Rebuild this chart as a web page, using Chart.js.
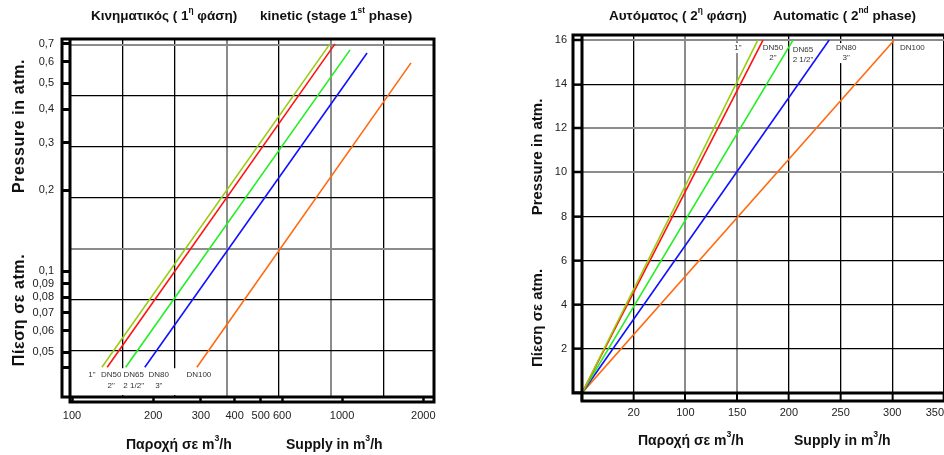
<!DOCTYPE html>
<html>
<head>
<meta charset="utf-8">
<script src="https://cdn.jsdelivr.net/npm/chart.js@4.4.1/dist/chart.umd.min.js"></script>
<style>
  body { margin: 0; width: 944px; height: 455px; overflow: hidden; background: #fff; position: relative;
         font-family: "Liberation Sans", Arial, sans-serif; }
  canvas { position: absolute; top: 0; }
  #kinetic { left: 0; }
  #automatic { left: 470px; }
  .t { position: absolute; font-weight: bold; color: #111; white-space: nowrap; line-height: 1; }
  .t sup { font-size: 62%; vertical-align: top; position: relative; top: -3px; }
  .v { transform: translate(-50%, -50%) rotate(-90deg); }
</style>
</head>
<body>
<canvas id="kinetic" width="470" height="455"></canvas>
<canvas id="automatic" width="479" height="455"></canvas>

<div class="t" style="left:91px;top:9px;font-size:13.5px">Κινηματικός ( 1<sup>η</sup> φάση)</div>
<div class="t" style="left:260px;top:9px;font-size:13.5px">kinetic (stage 1<sup>st</sup> phase)</div>
<div class="t" style="left:609px;top:9px;font-size:13.5px">Αυτόματος ( 2<sup>η</sup> φάση)</div>
<div class="t" style="left:773px;top:9px;font-size:13.5px">Automatic ( 2<sup>nd</sup> phase)</div>

<div class="t v" style="left:19px;top:126px;font-size:16px;letter-spacing:0.6px">Pressure in atm.</div>
<div class="t v" style="left:19px;top:310px;font-size:16px;letter-spacing:0.6px">Πίεση σε atm.</div>
<div class="t v" style="left:536px;top:157px;font-size:15px">Pressure in atm.</div>
<div class="t v" style="left:536px;top:318px;font-size:15px">Πίεση σε atm.</div>

<div class="t" style="left:126px;top:437px;font-size:14px">Παροχή σε m<sup>3</sup>/h</div>
<div class="t" style="left:286px;top:437px;font-size:14px">Supply in m<sup>3</sup>/h</div>
<div class="t" style="left:638px;top:433px;font-size:14px">Παροχή σε m<sup>3</sup>/h</div>
<div class="t" style="left:794px;top:433px;font-size:14px">Supply in m<sup>3</sup>/h</div>

<script>
// pipe sizes, shared by both panels
const pipeNames = ['1"', 'DN50', 'DN65', 'DN80', 'DN100'];
const pipeInches = ['', '2"', '2 1/2"', '3"', ''];
const pipeColors = ['#99cc11', '#ff1111', '#22ee22', '#1111ff', '#ff6a10'];

// kinetic (stage 1) - log/log
const kinFlowStart = [129, 135, 158, 186, 290];
const kinFlowEnd = [902, 942, 1071, 1238, 1801];
const kinPressStart = [0.044, 0.044, 0.044, 0.044, 0.044];
const kinPressEnd = [0.70, 0.70, 0.665, 0.648, 0.595];
const kinXTicks = [100, 200, 300, 400, 500, 600, 1000, 2000];
const kinYTicks = [0.044, 0.05, 0.06, 0.07, 0.08, 0.09, 0.1, 0.2, 0.3, 0.4, 0.5, 0.6, 0.7];
const kinYLabels = ['', '0,05', '0,06', '0,07', '0,08', '0,09', '0,1', '0,2', '0,3', '0,4', '0,5', '0,6', '0,7'];
// paper grid of the kinetic sheet (not tied to ticks)
const kinGridCols = [1, 2, 3, 4, 5, 6];
const kinGridRows = [1, 2, 3, 4, 5, 6, 7];

// automatic (stage 2) - linear
const autoFlowStart = [0, 0, 0, 0, 0];
const autoFlowEnd = [170, 175, 204, 239, 302];
const autoPressStart = [0, 0, 0, 0, 0];
const autoPressEnd = [16, 16, 16, 16, 16];
const autoXTicks = [0, 50, 100, 150, 200, 250, 300, 350];
const autoXLabels = ['', '20', '100', '150', '200', '250', '300', '350'];
const autoYTicks = [0, 2, 4, 6, 8, 10, 12, 14, 16];
const autoYLabels = ['', '2', '4', '6', '8', '10', '12', '14', '16'];

const BLACK = '#000';
const GRAY = '#8c8c8c';
const tickFont = { family: '"Liberation Sans", Arial, sans-serif', size: 11 };

function makeSets(x0, x1, y0, y1) {
  return pipeNames.map((n, i) => ({
    label: n,
    data: [{ x: x0[i], y: y0[i] }, { x: x1[i], y: y1[i] }],
    borderColor: pipeColors[i],
    borderWidth: 1.6,
    pointRadius: 0,
    tension: 0,
    fill: false
  }));
}

function fixTicks(values) {
  return axis => { axis.ticks = values.map(v => ({ value: v })); };
}

// double-line ladder frame around the plot
function framePlugin(id, dl, db, rightBorder) {
  return {
    id: id,
    afterDraw(chart) {
      const { ctx, chartArea: a } = chart;
      ctx.save();
      ctx.strokeStyle = BLACK;
      ctx.lineWidth = 3;
      ctx.lineCap = 'square';
      ctx.beginPath();
      ctx.moveTo(a.left - dl, a.top); ctx.lineTo(a.right, a.top);
      ctx.moveTo(a.left - dl, a.top); ctx.lineTo(a.left - dl, a.bottom);
      ctx.moveTo(a.left - dl, a.bottom); ctx.lineTo(a.right, a.bottom);
      ctx.moveTo(a.left, a.top); ctx.lineTo(a.left, a.bottom + db);
      ctx.moveTo(a.left, a.bottom + db); ctx.lineTo(a.right, a.bottom + db);
      if (rightBorder) { ctx.moveTo(a.right, a.top); ctx.lineTo(a.right, a.bottom + db); }
      ctx.stroke();
      ctx.restore();
    }
  };
}

// pipe name labels near an end of each line, on small white patches
function labelPlugin(id, useEnd, shifts, dy1, dy2, blank) {
  return {
    id: id,
    beforeDatasetsDraw(chart) {
      const { ctx } = chart;
      ctx.save();
      if (blank) blank(chart, ctx);
      ctx.font = '8px "Liberation Sans", Arial, sans-serif';
      ctx.textAlign = 'center';
      ctx.textBaseline = 'middle';
      chart.data.datasets.forEach((ds, i) => {
        const pt = chart.getDatasetMeta(i).data[useEnd ? 1 : 0];
        const x = pt.x + shifts[i][0];
        const y = pt.y + shifts[i][1];
        const w = Math.max(ctx.measureText(pipeNames[i]).width, ctx.measureText(pipeInches[i]).width) + 4;
        ctx.fillStyle = '#fff';
        ctx.fillRect(x - w / 2, y + dy1 - 5, w, (pipeInches[i] ? dy2 - dy1 : 0) + 10);
        ctx.fillStyle = '#333';
        ctx.fillText(pipeNames[i], x, y + dy1);
        if (pipeInches[i]) ctx.fillText(pipeInches[i], x, y + dy2);
      });
      ctx.restore();
    }
  };
}

new Chart(document.getElementById('kinetic'), {
  type: 'line',
  data: { datasets: makeSets(kinFlowStart, kinFlowEnd, kinPressStart, kinPressEnd) },
  options: {
    responsive: false,
    animation: false,
    devicePixelRatio: 1,
    layout: { padding: { left: 0, top: 39, right: 36, bottom: 0 } },
    plugins: { legend: { display: false }, tooltip: { enabled: false } },
    scales: {
      x: {
        type: 'logarithmic', min: 98.3, max: 2191,
        afterBuildTicks: fixTicks(kinXTicks),
        afterFit: s => { s.height = 58; },
        border: { display: false },
        grid: { drawOnChartArea: false, drawTicks: true, tickLength: 5, tickWidth: 2.5, tickColor: BLACK },
        ticks: { autoSkip: false, maxRotation: 0, padding: 7, color: '#222', font: tickFont,
                 callback: v => String(v) }
      },
      y: {
        type: 'logarithmic', min: 0.0341, max: 0.730,
        afterBuildTicks: fixTicks(kinYTicks),
        afterFit: s => { s.width = 70; },
        border: { display: false },
        grid: { drawOnChartArea: false, drawTicks: true, tickLength: 8, tickWidth: 3, tickColor: BLACK },
        ticks: { autoSkip: false, padding: 8, color: '#222', font: tickFont,
                 callback: (v, i) => kinYLabels[i] }
      },
      gx: {
        type: 'linear', position: 'top', min: 0, max: 6.97,
        afterBuildTicks: fixTicks(kinGridCols),
        afterFit: s => { s.height = 0; },
        border: { display: false },
        ticks: { display: false },
        grid: { drawTicks: false, lineWidth: c => (c.tick.value === 3 || c.tick.value === 5) ? 2 : 1.3,
                color: c => (c.tick.value === 3 || c.tick.value === 5) ? GRAY : BLACK }
      },
      gy: {
        type: 'linear', position: 'right', min: 0.1, max: 7.12,
        afterBuildTicks: fixTicks(kinGridRows),
        afterFit: s => { s.width = 0; },
        border: { display: false },
        ticks: { display: false },
        grid: { drawTicks: false, lineWidth: c => (c.tick.value === 3 || c.tick.value === 7) ? 2 : 1.3,
                color: c => (c.tick.value === 3 || c.tick.value === 7) ? GRAY : BLACK }
      }
    }
  },
  plugins: [
    framePlugin('kinFrame', 8, 5, true),
    labelPlugin('kinLabels', false, [[-10, 0], [4, 0], [8, 0], [14, 0], [2, 0]], 8, 19, (chart, ctx) => {
      const a = chart.chartArea;
      const x2 = chart.scales.gx.getPixelForValue(3);
      const y1 = chart.scales.y.getPixelForValue(kinYTicks[0]);
      ctx.fillStyle = '#fff';
      ctx.fillRect(a.left + 2, y1 + 1, x2 - a.left - 3, a.bottom - y1 - 3);
    })
  ]
});

new Chart(document.getElementById('automatic'), {
  type: 'line',
  data: { datasets: makeSets(autoFlowStart, autoFlowEnd, autoPressStart, autoPressEnd) },
  options: {
    responsive: false,
    animation: false,
    devicePixelRatio: 1,
    layout: { padding: { left: 0, top: 35, right: 5, bottom: 0 } },
    plugins: { legend: { display: false }, tooltip: { enabled: false } },
    scales: {
      x: {
        type: 'linear', min: 0, max: 350,
        afterBuildTicks: fixTicks(autoXTicks),
        afterFit: s => { s.height = 62; },
        border: { display: false },
        grid: { drawTicks: true, tickLength: 8, tickWidth: 2, tickColor: BLACK,
                lineWidth: c => (c.tick.value === 100 || c.tick.value === 150) ? 2 : 1.3,
                color: c => (c.tick.value === 100 || c.tick.value === 150) ? GRAY : BLACK },
        ticks: { autoSkip: false, maxRotation: 0, align: 'inner', padding: 5, color: '#222', font: tickFont,
                 callback: (v, i) => autoXLabels[i] }
      },
      y: {
        type: 'linear', min: 0, max: 16.23,
        afterBuildTicks: fixTicks(autoYTicks),
        afterFit: s => { s.width = 112; },
        border: { display: false },
        grid: { drawTicks: true, tickLength: 9, tickWidth: 2.5, tickColor: BLACK,
                lineWidth: c => (c.tick.value === 16 || c.tick.value === 12 || c.tick.value === 10) ? 2 : 1.3,
                color: c => (c.tick.value === 16 || c.tick.value === 12 || c.tick.value === 10) ? GRAY : BLACK },
        ticks: { autoSkip: false, padding: 6, color: '#222', font: tickFont,
                 callback: (v, i) => autoYLabels[i] }
      }
    }
  },
  plugins: [
    framePlugin('autoFrame', 9, 8, false),
    labelPlugin('autoLabels', true, [[-20, 0], [10, 0], [10, 2], [17, 0], [18, 0]], 8, 18, null)
  ]
});
</script>
</body>
</html>
